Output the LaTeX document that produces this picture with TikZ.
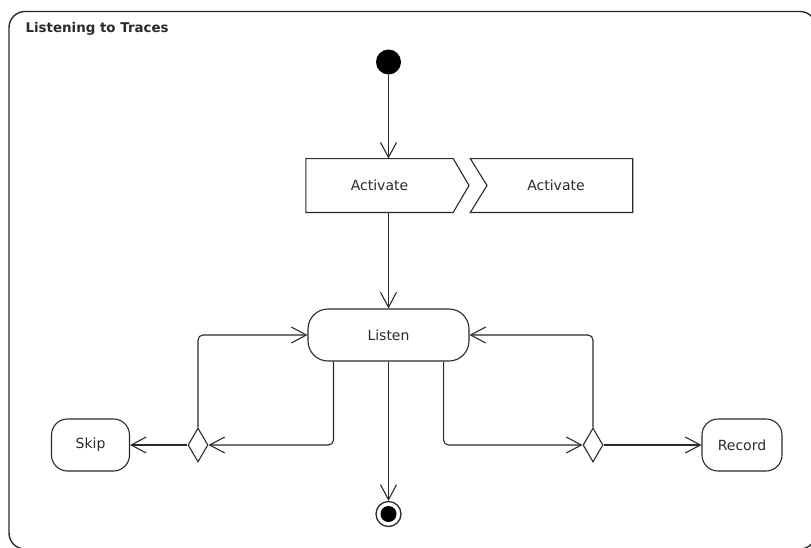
\documentclass[tikz,border=0pt]{standalone}
\usepackage{fontspec}
\setmainfont{DejaVu Sans}
\usetikzlibrary{arrows.meta,shapes.geometric}
\definecolor{ink}{HTML}{2A2A2A}
\tikzset{
  every node/.style={font=\fontsize{14}{16}\selectfont, text=ink},
  line/.style={draw=ink, line width=1.1pt},
  flow/.style={line, -{Straight Barb[length=15pt,width=16pt,line width=1.1pt]}, rounded corners=5pt},
  action/.style={line, rectangle, rounded corners=16pt, minimum width=78pt, minimum height=52pt, inner sep=0pt},
  decision/.style={line, diamond, minimum width=20pt, minimum height=34pt, inner sep=0pt, fill=white},
  slot/.style={rectangle, minimum height=53.5pt, inner sep=0pt},
}
\begin{document}
\begin{tikzpicture}[x=1pt,y=-1pt]
\useasboundingbox (0,0) rectangle (811,547);
\begin{scope}
  \clip (0,0) rectangle (811,547);
  % activity frame
  \draw[draw=ink, line width=1.4pt, rounded corners=16pt] (9,11.5) rectangle (816,549);
\end{scope}
\node[anchor=base west, font=\bfseries\fontsize{13.4}{16}\selectfont] (title) at (22,32.5) {Listening to Traces};

% initial node
\node[circle, fill=black, minimum size=25pt, inner sep=0pt] (ini) at (388.5,62) {};

% send signal action
\node[slot, minimum width=147pt] (send) at (379.5,185.5) {Activate};
\draw[line, line join=miter] (send.north west) -- (send.north east) -- (469,185.5) -- (send.south east) -- (send.south west) -- cycle;

% accept event action
\node[slot, minimum width=162pt] (accept) at (551.5,185.5) {};
\node (accepttext) at (556,185.5) {Activate};
\draw[line, line join=miter] (accept.north west) -- (accept.north east) -- (accept.south east) -- (accept.south west) -- (487,185.5) -- cycle;

% actions
\node[action, minimum width=161pt, rounded corners=20pt] (listen) at (388.5,335) {Listen};
\node[action] (skip) at (90.5,445) {Skip};
\node[action, minimum width=80pt] (record) at (742,445) {Record};

% decisions
\node[decision] (d1) at (198,445) {};
\node[decision] (d2) at (593,445) {};

% final node
\node[circle, draw=ink, line width=1.3pt, minimum size=25pt, inner sep=0pt] (fin) at (388.5,514) {};
\fill[black] (fin.center) circle (8pt);

% flows
\draw[flow] (ini) -- (ini |- send.north);
\draw[flow] (ini |- send.south) -- (listen.north);
\draw[flow] (listen.south) -- (fin.north);
\draw[flow] ([xshift=26pt]listen.south west) |- (d1.east);
\draw[flow] ([xshift=-26pt]listen.south east) |- (d2.west);
\draw[flow] (d1.north) |- (listen.west);
\draw[flow] (d2.north) |- (listen.east);
\draw[flow] (d1.west) -- (skip.east);
\draw[flow] (d2.east) -- (record.west);
\end{tikzpicture}
\end{document}
